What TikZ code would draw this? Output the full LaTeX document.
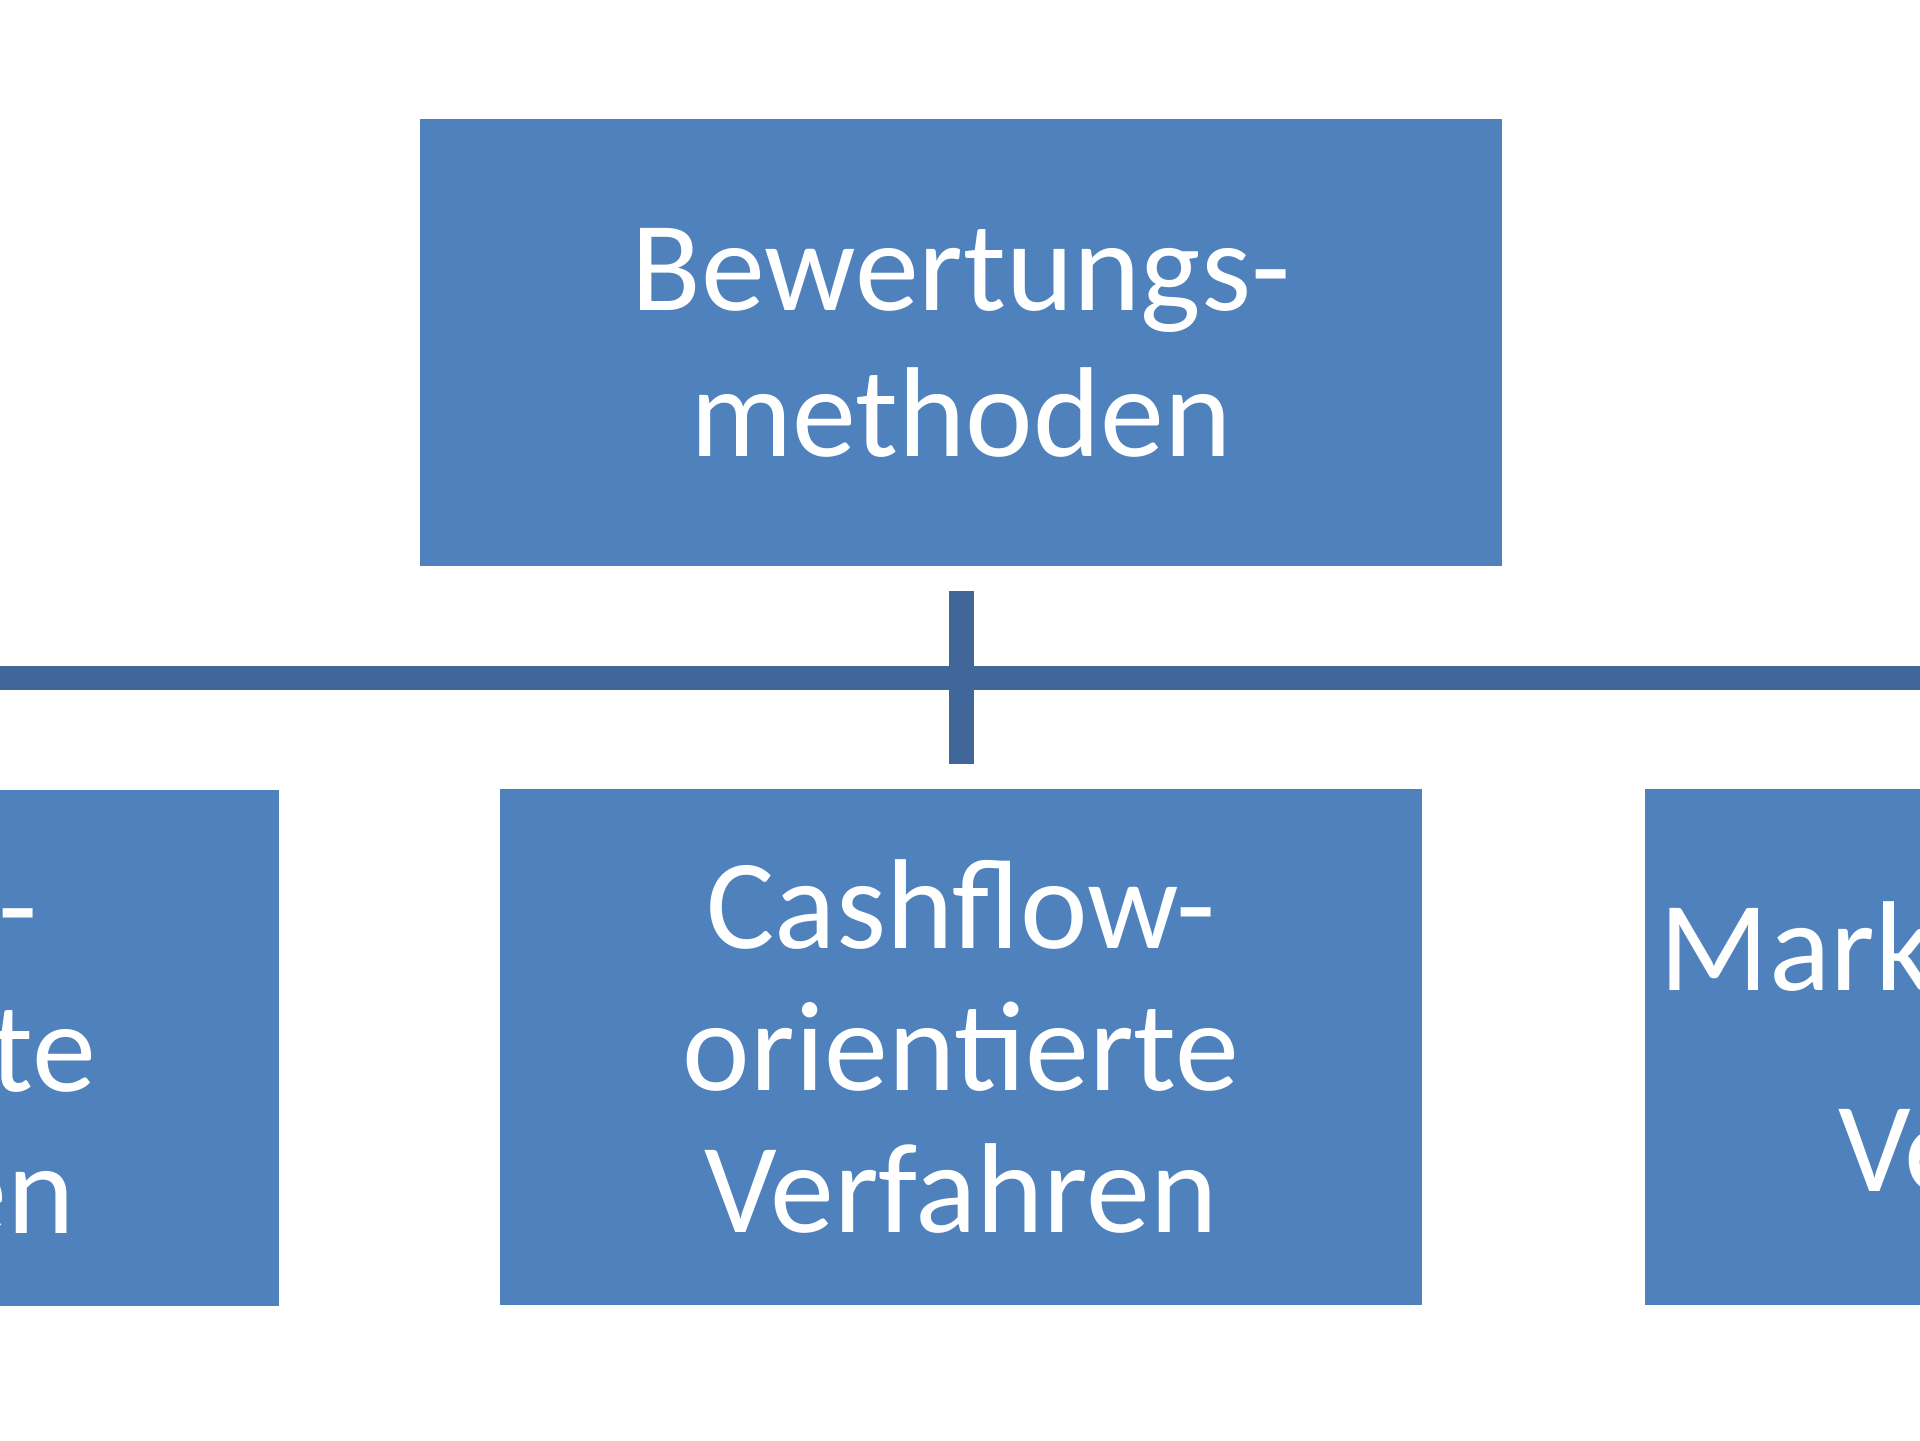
\documentclass[tikz,border=0pt]{standalone}
\usepackage{fontspec}
\setmainfont{Carlito}
\usetikzlibrary{calc}

\definecolor{boxblue}{HTML}{4F81BD}
\definecolor{linkblue}{HTML}{41679A}

\tikzset{every picture/.style={line width=0.75pt}}
\tikzset{
  methodbox/.style={fill=boxblue, draw=none, text=white, align=center, inner sep=0pt,
    minimum width=461pt, minimum height=258pt, font=\fontsize{64}{71}\selectfont},
  link/.style={draw=linkblue, line width=12.5pt}
}

\begin{document}
\begin{tikzpicture}[x=0.5pt,y=0.5pt,yscale=-1,xscale=1]
	\useasboundingbox (0,0) rectangle (1920,1440);
	\clip (0,0) rectangle (1920,1440);
	
	%Shape: Rectangle [id:root]
	\node [methodbox, minimum width=541pt, minimum height=223.5pt, font=\fontsize{64}{73}\selectfont] (root) at (961,342.5) {Bewertungs-\\methoden};
	%Shape: Rectangle [id:gewinn]
	\node [methodbox] (gewinn) at (-182,1048) {Gewinn-\\orientierte\\Verfahren};
	%Shape: Rectangle [id:cash]
	\node [methodbox] (cash) at (961,1047) {Cashflow-\\orientierte\\Verfahren};
	%Shape: Rectangle [id:markt]
	\node [methodbox, minimum width=450pt] (markt) at (2095,1047) {Marktorientierte\\[29.5pt]Verfahren};
	
	%Straight Lines [id:bar]
	\coordinate (barL) at (0,678);
	\coordinate (barR) at (1920,678);
	\draw [link, line width=12pt] (barL) -- (barR);
	%Straight Lines [id:stub]
	\draw [link] ($(root.south)+(0,24)$) -- ($(cash.north)-(0,24)$);
	
\end{tikzpicture}
\end{document}
